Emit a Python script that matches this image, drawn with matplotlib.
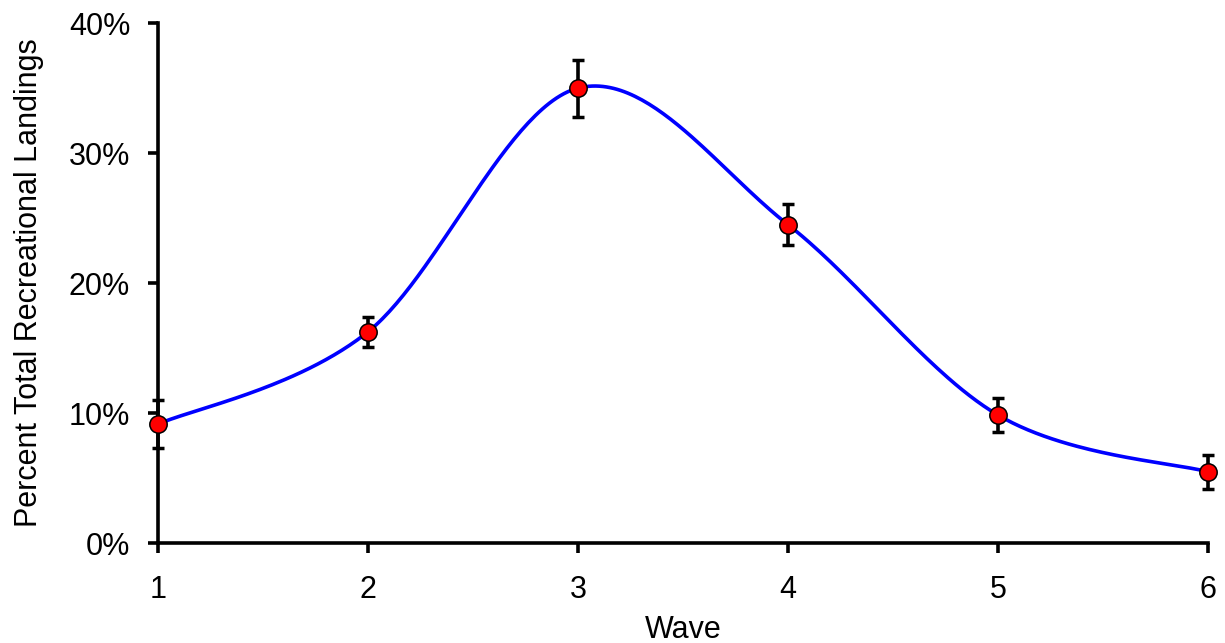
import numpy as np
import matplotlib.pyplot as plt
from matplotlib.ticker import PercentFormatter

plt.rcParams['font.family'] = ['Liberation Sans', 'DejaVu Sans']

# data
waves = [1, 2, 3, 4, 5, 6]
pct_landings = [0.0915, 0.1625, 0.350, 0.245, 0.0985, 0.0548]
pct_err = [0.0185, 0.0115, 0.022, 0.016, 0.013, 0.013]


def smooth_curve(xs, ys, n=60):
    # Excel-style smoothed line: cubic bezier with catmull-rom control points
    xs = np.asarray(xs, dtype=float)
    ys = np.asarray(ys, dtype=float)
    px = np.concatenate([[xs[0]], xs, [xs[-1]]])
    py = np.concatenate([[ys[0]], ys, [ys[-1]]])
    out_x, out_y = [], []
    t = np.linspace(0, 1, n)
    for i in range(1, len(px) - 2):
        p0 = np.array([px[i], py[i]])
        p3 = np.array([px[i + 1], py[i + 1]])
        c1 = p0 + (np.array([px[i + 1], py[i + 1]]) - np.array([px[i - 1], py[i - 1]])) / 6
        c2 = p3 - (np.array([px[i + 2], py[i + 2]]) - np.array([px[i], py[i]])) / 6
        b = ((1 - t) ** 3)[:, None] * p0 + (3 * (1 - t) ** 2 * t)[:, None] * c1 \
            + (3 * (1 - t) * t ** 2)[:, None] * c2 + (t ** 3)[:, None] * p3
        out_x.extend(b[:, 0])
        out_y.extend(b[:, 1])
    return out_x, out_y


fig = plt.figure(figsize=(12.25, 6.43), dpi=100)
ax = fig.add_axes([0.129, 0.1555, 0.857, 0.8085])

sx, sy = smooth_curve(waves, pct_landings)
ax.plot(sx, sy, color='#0000FF', lw=2.6, zorder=2, clip_on=False)
ax.errorbar(waves, pct_landings, yerr=pct_err, fmt='none', ecolor='black',
            elinewidth=2.6, capsize=4.5, capthick=2.5, zorder=3, clip_on=False)
ax.plot(waves, pct_landings, 'o', color='#FF0000', mec='black', mew=1.1,
        ms=12.5, zorder=4, clip_on=False)

ax.set_xlim(1, 6)
ax.set_ylim(0, 0.4)
ax.set_xticks(waves)
ax.set_yticks([0, 0.1, 0.2, 0.3, 0.4])
ax.yaxis.set_major_formatter(PercentFormatter(1.0, decimals=0))

for side in ['top', 'right']:
    ax.spines[side].set_visible(False)
for side in ['left', 'bottom']:
    ax.spines[side].set_linewidth(2.6)
    ax.spines[side].set_color('black')

ax.tick_params(axis='both', direction='out', length=7, width=2.6,
               labelsize=22, colors='black')
ax.tick_params(axis='x', pad=16)
ax.tick_params(axis='y', pad=13)

ax.set_xlabel('Wave', fontsize=22, labelpad=7)
ax.set_ylabel('Percent Total Recreational Landings', fontsize=22, labelpad=18)

fig.savefig('out.png', dpi=100)
